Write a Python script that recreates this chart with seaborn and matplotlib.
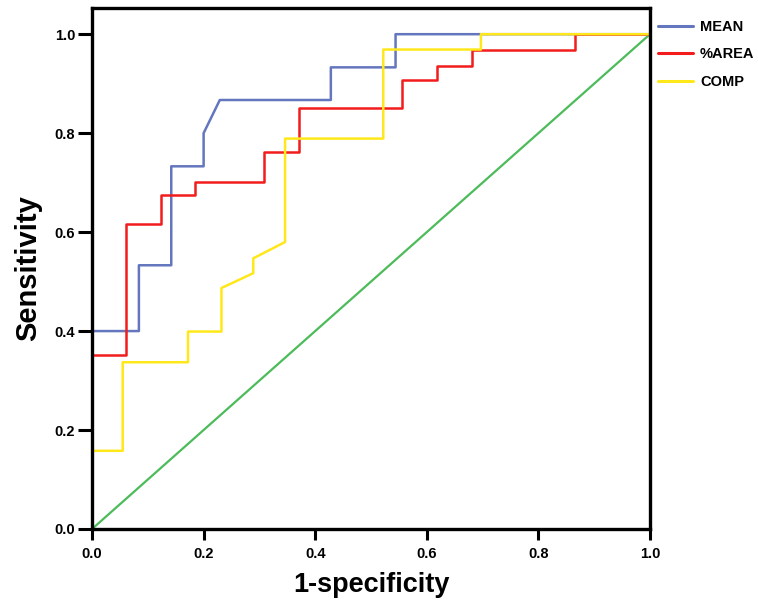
import pandas as pd
import matplotlib
matplotlib.use('Agg')
import matplotlib.pyplot as plt
import seaborn as sns

# ROC curve points (1-specificity, sensitivity)
mean_fpr = [0.0, 0.0, 0.084, 0.084, 0.142, 0.142, 0.200, 0.200, 0.229, 0.428, 0.428, 0.544, 0.544, 1.0]
mean_tpr = [0.0, 0.400, 0.400, 0.533, 0.533, 0.733, 0.733, 0.800, 0.867, 0.867, 0.933, 0.933, 1.0, 1.0]

area_fpr = [0.0, 0.0, 0.061, 0.061, 0.123, 0.123, 0.184, 0.184, 0.308, 0.308, 0.371, 0.371,
            0.555, 0.555, 0.618, 0.618, 0.681, 0.681, 0.866, 0.866, 1.0]
area_tpr = [0.0, 0.352, 0.352, 0.616, 0.616, 0.675, 0.675, 0.702, 0.702, 0.762, 0.762, 0.851,
            0.851, 0.907, 0.907, 0.936, 0.936, 0.968, 0.968, 1.0, 1.0]

comp_fpr = [0.0, 0.0, 0.055, 0.055, 0.172, 0.172, 0.232, 0.232, 0.289, 0.289, 0.346, 0.346,
            0.522, 0.522, 0.697, 0.697, 1.0]
comp_tpr = [0.0, 0.158, 0.158, 0.337, 0.337, 0.399, 0.399, 0.487, 0.517, 0.547, 0.580, 0.789,
            0.789, 0.969, 0.969, 1.0, 1.0]

ref_line = [0.0, 1.0]
ticks = [0.0, 0.2, 0.4, 0.6, 0.8, 1.0]
tick_labels = ['0.0', '0.2', '0.4', '0.6', '0.8', '1.0']

curves = {'MEAN': (mean_fpr, mean_tpr), '%AREA': (area_fpr, area_tpr), 'COMP': (comp_fpr, comp_tpr)}
colors = {'MEAN': '#6476bd', '%AREA': '#f21c1c', 'COMP': '#ffe81a'}

frames = []
for name, (fx, ty) in curves.items():
    frames.append(pd.DataFrame({'fpr': fx, 'tpr': ty, 'curve': name}))
df = pd.concat(frames, ignore_index=True)

sns.set_style('white')
plt.rcParams['font.family'] = ['Liberation Sans', 'DejaVu Sans']
plt.rcParams['text.color'] = 'black'
plt.rcParams['axes.labelcolor'] = 'black'
plt.rcParams['xtick.color'] = 'black'
plt.rcParams['ytick.color'] = 'black'

fig = plt.figure(figsize=(7.58, 6.04), dpi=100)
ax = fig.add_axes([0.1214, 0.1242, 0.7361, 0.8626])

# chance line
sns.lineplot(x=ref_line, y=ref_line, color='#4cbb5a', linewidth=1.6, ax=ax)

sns.lineplot(data=df, x='fpr', y='tpr', hue='curve', estimator=None, sort=False,
             palette=colors, linewidth=1.8, ax=ax)

old = ax.get_legend()
handles = old.legend_handles
labels = [t.get_text() for t in old.get_texts()]
old.remove()

ax.set_xlim(0, 1.0)
ax.set_ylim(0, 1.053)
ax.set_xticks(ticks)
ax.set_yticks(ticks)
ax.set_xticklabels(tick_labels, fontweight='bold', fontsize=10.5)
ax.set_yticklabels(tick_labels, fontweight='bold', fontsize=10.5)
ax.tick_params(axis='x', direction='out', length=8, width=2.2, pad=5, bottom=True)
ax.tick_params(axis='y', direction='out', length=10, width=2.2, pad=2, left=True)
for s in ax.spines.values():
    s.set_linewidth(2.4)
    s.set_color('black')
    s.set_zorder(5)

ax.set_xlabel('1-specificity', fontsize=19.5, fontweight='bold', labelpad=8)
ax.set_ylabel('Sensitivity', fontsize=21, fontweight='bold', labelpad=9)

leg = ax.legend(handles, labels, loc='upper left', bbox_to_anchor=(1.0143, 0.977), frameon=False,
                borderpad=0, borderaxespad=0, handlelength=2.4, handletextpad=0.48,
                labelspacing=0.92, prop={'weight': 'bold', 'size': 10.5})
for h in leg.legend_handles:
    h.set_linewidth(2.2)

fig.savefig('out.png', dpi=100)
